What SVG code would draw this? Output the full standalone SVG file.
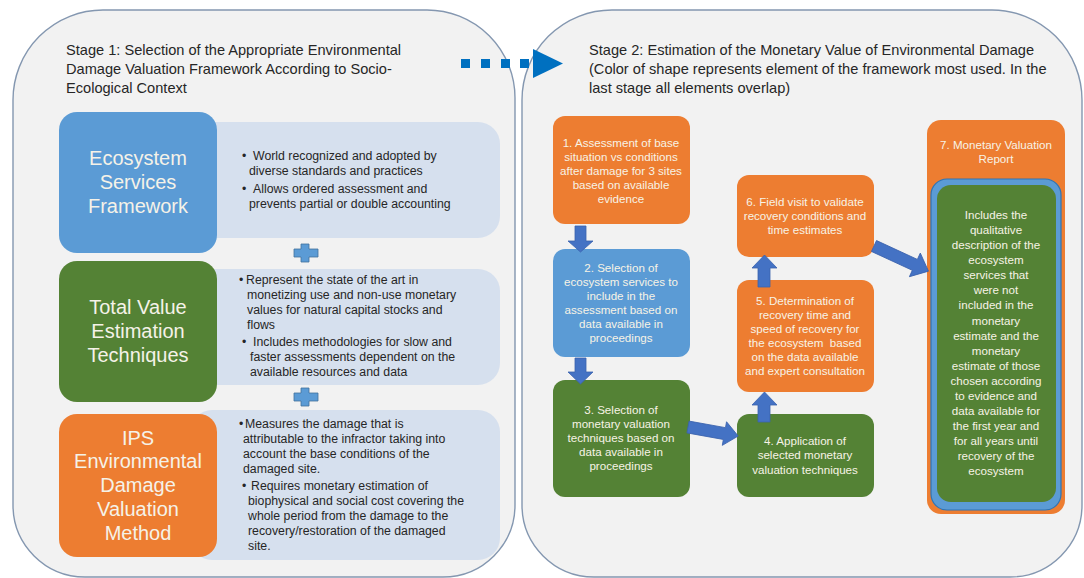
<svg xmlns="http://www.w3.org/2000/svg" width="1084" height="578" viewBox="0 0 1084 578">
<style>
.panel{fill:#F2F2F2;stroke:#8497B0;stroke-width:1.4}
.title{font-family:"Liberation Sans",Arial,sans-serif;font-size:14.6px;fill:#262626}
.big{font-family:"Liberation Sans",Arial,sans-serif;font-size:20px;fill:#F5F2E8;text-anchor:middle}
.desc{font-family:"Liberation Sans",Arial,sans-serif;font-size:12.3px;fill:#262626}
.box{font-family:"Liberation Sans",Arial,sans-serif;font-size:11.6px;fill:#F7F3E6;text-anchor:middle}
.descbg{fill:#D6E0EE}
.blue{fill:#5B9BD5}
.green{fill:#548235}
.orange{fill:#ED7D31}
.arr{fill:#4472C4;stroke:#3A62AD;stroke-width:0.8}
.plus{fill:#5B9BD5;stroke:#41719C;stroke-width:0.8}
</style>
<rect width="1084" height="578" fill="#FFFFFF"/>
<g id="stage1">
<path class="panel" d="M103,10 H427 A88,88 0 0 1 515,98 V505 A72,72 0 0 1 443,577 H85 A72,72 0 0 1 13,505 V100 A90,90 0 0 1 103,10 Z"/>
<text class="title" x="66" y="55">Stage 1: Selection of the Appropriate Environmental</text>
<text class="title" x="66" y="74">Damage Valuation Framework According to Socio-</text>
<text class="title" x="66" y="93">Ecological Context</text>
</g>
<g id="stage2">
<path class="panel" d="M612,10 H992 A90,90 0 0 1 1082,100 V505 A72,72 0 0 1 1010,577 H594 A72,72 0 0 1 522,505 V100 A90,90 0 0 1 612,10 Z"/>
<text class="title" x="589" y="55">Stage 2: Estimation of the Monetary Value of Environmental Damage</text>
<text class="title" x="589" y="74">(Color of shape represents element of the framework most used. In the</text>
<text class="title" x="589" y="93">last stage all elements overlap)</text>
</g>
<g id="stage-arrow">
<rect x="461" y="59" width="9" height="9" fill="#0070C0"/>
<rect x="481" y="59" width="9" height="9" fill="#0070C0"/>
<rect x="501" y="59" width="9" height="9" fill="#0070C0"/>
<rect x="520" y="59" width="9" height="9" fill="#0070C0"/>
<polygon points="533,49 563,63.5 533,78" fill="#0070C0"/>
</g>
<g id="ecosystem-services">
<rect class="descbg" x="190" y="122" width="310" height="116" rx="22"/>
<rect class="blue" x="59" y="112" width="158" height="141" rx="18"/>
<text class="big" x="138" y="165">Ecosystem</text>
<text class="big" x="138" y="189">Services</text>
<text class="big" x="138" y="213">Framework</text>
<text class="desc" x="242" y="160">• <tspan x="253">World recognized and adopted by</tspan></text>
<text class="desc" x="249" y="175">diverse standards and practices</text>
<text class="desc" x="242" y="193">• <tspan x="253">Allows ordered assessment and</tspan></text>
<text class="desc" x="249" y="208">prevents partial or double accounting</text>
</g>
<g id="plus1"><path class="plus" d="M301,244 H309 V249 H318 V257 H309 V262 H301 V257 H294 V249 H301 Z"/></g>
<g id="total-value">
<rect class="descbg" x="190" y="269" width="310" height="116" rx="22"/>
<rect class="green" x="59" y="261" width="158" height="141" rx="18"/>
<text class="big" x="138" y="314">Total Value</text>
<text class="big" x="138" y="338">Estimation</text>
<text class="big" x="138" y="362">Techniques</text>
<text class="desc" x="239" y="284">• <tspan x="246">Represent the state of the art in</tspan></text>
<text class="desc" x="247" y="299">monetizing use and non-use monetary</text>
<text class="desc" x="247" y="314">values for natural capital stocks and</text>
<text class="desc" x="247" y="329">flows</text>
<text class="desc" x="242" y="346">• <tspan x="253">Includes methodologies for slow and</tspan></text>
<text class="desc" x="250" y="361">faster assessments dependent on the</text>
<text class="desc" x="250" y="376">available resources and data</text>
</g>
<g id="plus2"><path class="plus" d="M301,388 H309 V393 H318 V401 H309 V406 H301 V401 H294 V393 H301 Z"/></g>
<g id="ips-method">
<rect class="descbg" x="190" y="410" width="310" height="150" rx="22"/>
<rect class="orange" x="59" y="414" width="158" height="143" rx="18"/>
<text class="big" x="138" y="445">IPS</text>
<text class="big" x="138" y="468">Environmental</text>
<text class="big" x="138" y="492">Damage</text>
<text class="big" x="138" y="516">Valuation</text>
<text class="big" x="138" y="540">Method</text>
<text class="desc" x="239" y="428">• <tspan x="245">Measures the damage that is</tspan></text>
<text class="desc" x="243" y="443">attributable to the infractor taking into</text>
<text class="desc" x="243" y="458">account the base conditions of the</text>
<text class="desc" x="243" y="473">damaged site.</text>
<text class="desc" x="242" y="490">• <tspan x="251">Requires monetary estimation of</tspan></text>
<text class="desc" x="248" y="505">biophysical and social cost covering the</text>
<text class="desc" x="248" y="520">whole period from the damage to the</text>
<text class="desc" x="248" y="535">recovery/restoration of the damaged</text>
<text class="desc" x="248" y="550">site.</text>
</g>
<g id="step1">
<rect class="orange" x="553" y="116" width="137" height="108" rx="12"/>
<text class="box" x="621" y="147">1. Assessment of base</text>
<text class="box" x="621" y="161">situation vs conditions</text>
<text class="box" x="621" y="175">after damage for 3 sites</text>
<text class="box" x="621" y="189">based on available</text>
<text class="box" x="621" y="203">evidence</text>
</g>
<g id="step2">
<rect class="blue" x="553" y="249" width="137" height="108" rx="12"/>
<text class="box" x="621" y="272">2. Selection of</text>
<text class="box" x="621" y="286">ecosystem services to</text>
<text class="box" x="621" y="300">include in the</text>
<text class="box" x="621" y="314">assessment based on</text>
<text class="box" x="621" y="328">data available in</text>
<text class="box" x="621" y="342">proceedings</text>
</g>
<g id="step3">
<rect class="green" x="553" y="380" width="137" height="117" rx="12"/>
<text class="box" x="621" y="414">3. Selection of</text>
<text class="box" x="621" y="428">monetary valuation</text>
<text class="box" x="621" y="442">techniques based on</text>
<text class="box" x="621" y="456">data available in</text>
<text class="box" x="621" y="470">proceedings</text>
</g>
<g id="step4">
<rect class="green" x="737" y="414" width="137" height="83" rx="12"/>
<text class="box" x="805" y="445">4. Application of</text>
<text class="box" x="805" y="459">selected monetary</text>
<text class="box" x="805" y="474">valuation techniques</text>
</g>
<g id="step5">
<rect class="orange" x="737" y="280" width="137" height="112" rx="12"/>
<text class="box" x="805" y="305">5. Determination of</text>
<text class="box" x="805" y="319">recovery time and</text>
<text class="box" x="805" y="333">speed of recovery for</text>
<text class="box" x="805" y="347" xml:space="preserve">the ecosystem  based</text>
<text class="box" x="805" y="361">on the data available</text>
<text class="box" x="805" y="375">and expert consultation</text>
</g>
<g id="step6">
<rect class="orange" x="737" y="175" width="137" height="82" rx="12"/>
<text class="box" x="805" y="206">6. Field visit to validate</text>
<text class="box" x="805" y="220">recovery conditions and</text>
<text class="box" x="805" y="234">time estimates</text>
</g>
<g id="step7">
<rect class="orange" x="927" y="120" width="138" height="394" rx="14"/>
<text class="box" x="996" y="149">7. Monetary Valuation</text>
<text class="box" x="996" y="163">Report</text>
<rect x="931" y="179" width="130" height="331" rx="16" fill="#5B9BD5" stroke="#2E75B6" stroke-width="1.2"/>
<rect class="green" x="937" y="185" width="119" height="317" rx="14"/>
<text class="box" x="996" y="219">Includes the</text>
<text class="box" x="996" y="234">qualitative</text>
<text class="box" x="996" y="249">description of the</text>
<text class="box" x="996" y="264">ecosystem</text>
<text class="box" x="996" y="279">services that</text>
<text class="box" x="996" y="294">were not</text>
<text class="box" x="996" y="309">included in the</text>
<text class="box" x="996" y="325">monetary</text>
<text class="box" x="996" y="340">estimate and the</text>
<text class="box" x="996" y="355">monetary</text>
<text class="box" x="996" y="370">estimate of those</text>
<text class="box" x="996" y="385">chosen according</text>
<text class="box" x="996" y="400">to evidence and</text>
<text class="box" x="996" y="415">data available for</text>
<text class="box" x="996" y="430">the first year and</text>
<text class="box" x="996" y="445">for all years until</text>
<text class="box" x="996" y="460">recovery of the</text>
<text class="box" x="996" y="475">ecosystem</text>
</g>
<g id="connectors">
<polygon class="arr" points="575,226 586,226 586,241 593,241 580.5,252 568,241 575,241"/>
<polygon class="arr" points="575,358 586,358 586,372 593,372 580.5,384 568,372 575,372"/>
<polygon class="arr" transform="translate(688,427) rotate(10.2)" points="0,-6 37,-6 37,-12 51,0 37,12 37,6 0,6"/>
<polygon class="arr" points="758,422 770,422 770,405 777,405 764.5,392 752,405 758,405"/>
<polygon class="arr" points="758,287 770,287 770,268 777,268 764.5,255 752,268 758,268"/>
<polygon class="arr" transform="translate(874,246) rotate(24.8)" points="0,-6 45,-6 45,-13 60,0 45,13 45,6 0,6"/>
</g>
</svg>
